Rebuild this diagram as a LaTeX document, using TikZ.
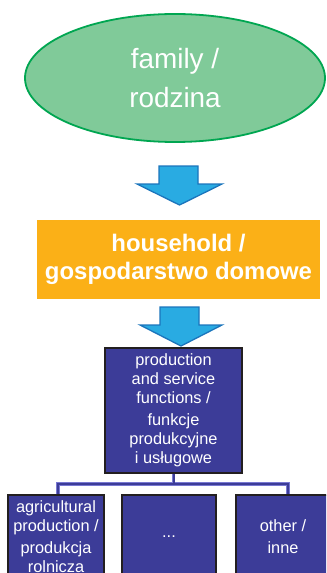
\documentclass[tikz,border=0pt]{standalone}
\usepackage{fontspec}
\setmainfont{Liberation Sans}
\usetikzlibrary{shapes.geometric}

\definecolor{famfill}{RGB}{128,202,153}
\definecolor{famline}{RGB}{0,166,81}
\definecolor{hhfill}{RGB}{251,176,23}
\definecolor{arrfill}{RGB}{41,171,226}
\definecolor{arrline}{RGB}{27,117,188}
\definecolor{boxfill}{RGB}{60,60,152}
\definecolor{boxline}{RGB}{35,31,32}
\definecolor{linkedge}{RGB}{120,120,210}

\tikzset{
  famnode/.style={ellipse, draw=famline, line width=1.8bp, fill=famfill,
    minimum width=300bp, minimum height=128bp, inner sep=0pt,
    text=white, align=center, font=\fontsize{28}{39}\selectfont},
  hhnode/.style={rectangle, fill=hhfill, minimum width=283bp, minimum height=79bp,
    inner sep=0pt, text=white, align=center, font=\bfseries\fontsize{24}{28}\selectfont},
  funcbox/.style={rectangle, draw=boxline, line width=1.5bp, fill=boxfill,
    inner sep=0pt, text=white, align=center, font=\fontsize{16.4}{19}\selectfont},
  blockarrow/.style={fill=arrfill, draw=arrline, line width=1.3bp, line join=miter},
  linkedge/.style={draw=linkedge, line width=3.6bp, line join=miter},
  linkcore/.style={draw=boxfill, line width=2bp, line join=miter}
}

\begin{document}
\begin{tikzpicture}[x=1bp, y=-1bp]
  \useasboundingbox (0,0) rectangle (326,573);
  \clip (0,0) rectangle (326,573);

  % family
  \node[famnode] (fam) at (175,78) {family /\\rodzina};

  % household
  \node[hhnode] (hh) at (178.5,259.5) {household /\\gospodarstwo domowe};

  % production and service functions
  \node[funcbox, minimum width=137bp, minimum height=125bp] (pf) at (173.5,410.5)
    {production\\and service\\functions /\\[3bp]funkcje\\produkcyjne\\i usługowe};

  % lower level
  \node[funcbox, minimum width=96bp, minimum height=84bp] (b1) at (56,537)
    {agricultural\\production /\\[3bp]produkcja\\rolnicza};
  \node[funcbox, minimum width=94bp, minimum height=84bp] (b2) at (169,537) {...};
  \node[funcbox, minimum width=94bp, minimum height=84bp] (b3) at (283,537)
    {other /\\[3bp]inne};

  % block arrows
  \draw[blockarrow] (159,166) -- (198,166) -- (198,184) -- (222,184) -- (179.5,205)
    -- (137,184) -- (159,184) -- cycle;
  \draw[blockarrow] (160,307) -- (199,307) -- (199,325) -- (222,325) -- (181,346)
    -- (140,325) -- (160,325) -- cycle;

  % tree connectors
  \coordinate (jm) at (173.5,484);
  \foreach \sty in {linkedge,linkcore}{
    \draw[\sty] (pf.south) -- (jm);
    \draw[\sty] ([xshift=2bp]b1.north) |- ([xshift=5bp]b3.north |- jm) -- ([xshift=5bp]b3.north);
  }
\end{tikzpicture}
\end{document}
